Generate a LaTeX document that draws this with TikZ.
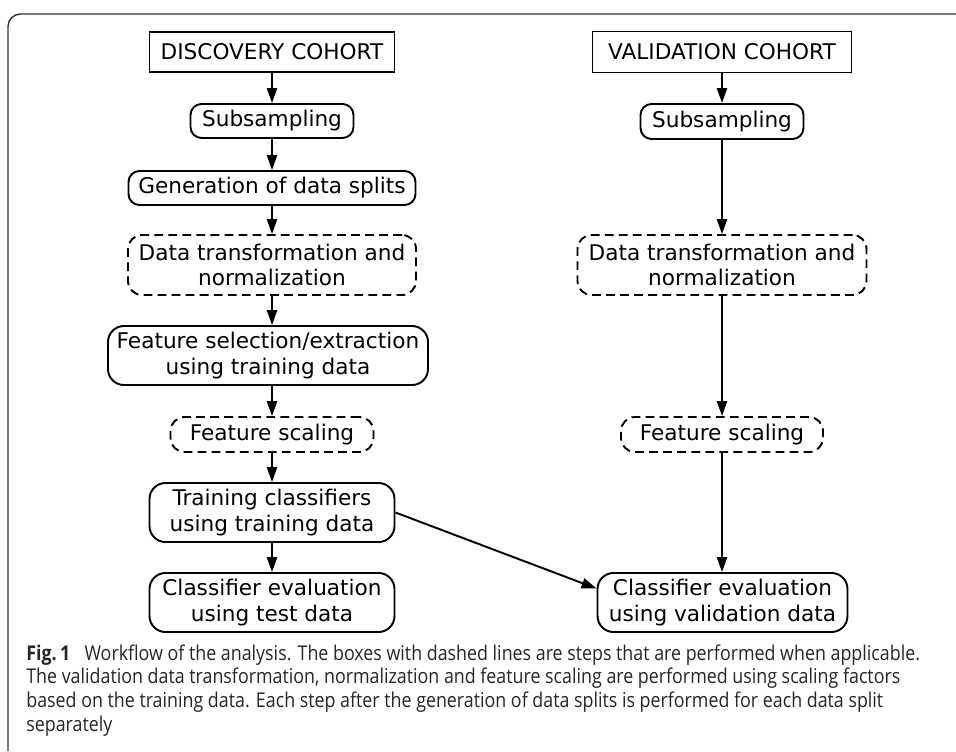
\documentclass[tikz,border=0pt]{standalone}
\usepackage{fontspec}
\setmainfont{DejaVu Sans}
\newfontfamily\capfont{Open Sans}[FakeStretch=0.875]
\usetikzlibrary{arrows.meta}
\tikzset{
  px/.style={x=0.02cm,y=-0.02cm},
  wh/.style 2 args={minimum width=#1*0.02cm, minimum height=#2*0.02cm},
  base/.style={draw, line width=1.1pt, inner sep=0pt, align=center,
    font=\fontsize{12.3}{14.5}\selectfont},
  cohort/.style={base},
  stepbox/.style={base, rounded corners=0.22cm},
  tallbox/.style={base, rounded corners=0.32cm},
  optbox/.style={base, rounded corners=0.28cm, dash pattern=on 5pt off 3pt},
  conn/.style={line width=1.1pt, -{Triangle[length=8.5pt,width=5.8pt]}},
  frame/.style={line width=0.8pt, black!80, rounded corners=0.25cm},
}
\begin{document}
\begin{tikzpicture}[px]
\useasboundingbox (0,0) rectangle (956,751);
\draw[frame] (8,751) |- (956,14);

% left column
\node[cohort, wh={245}{40}] (dc) at (272,52) {DISCOVERY COHORT};
\node[stepbox, wh={163}{34}] (subl) at (272,121) {Subsampling};
\node[stepbox, wh={287}{34}] (gen) at (272,188) {Generation of data splits};
\node[optbox, wh={288}{60}] (dtl) at (272,265) {Data transformation and\\normalization};
\node[tallbox, wh={320}{59}] (fsel) at (268,355.5) {Feature selection/extraction\\using training data};
\node[optbox, wh={203}{35}] (fscl) at (272,434.5) {Feature scaling};
\node[tallbox, wh={245}{59}] (train) at (272,512.5) {Training classifiers\\using training data};
\node[tallbox, wh={245}{59}] (evalt) at (272,602.5) {Classifier evaluation\\using test data};

% right column
\node[cohort, wh={259}{41}] (vc) at (722,52) {VALIDATION COHORT};
\node[stepbox, wh={163}{35}] (subr) at (722,121.5) {Subsampling};
\node[optbox, wh={289}{60}] (dtr) at (722,265) {Data transformation and\\normalization};
\node[optbox, wh={202}{35}] (fscr) at (722,434.5) {Feature scaling};
\node[tallbox, wh={250}{59}] (evalv) at (722.5,602.5) {Classifier evaluation\\using validation data};

% connectors
\draw[conn] (dc) -- (subl);
\draw[conn] (subl) -- (gen);
\draw[conn] (gen) -- (dtl);
\draw[conn] (dtl.south) -- (dtl.south |- fsel.north);
\draw[conn] (fsel.south -| fscl.north) -- (fscl.north);
\draw[conn] (fscl) -- (train);
\draw[conn] (train) -- (evalt);
\draw[conn] (train.east) -- ([yshift=0.28cm]evalv.west);
\draw[conn] (vc) -- (subr);
\draw[conn] (subr) -- (dtr);
\draw[conn] (dtr) -- (fscr);
\draw[conn] (fscr.south) -- (fscr.south |- evalv.north);

% caption
\node[anchor=base west, inner sep=0pt, align=left,
  font=\capfont\fontsize{11.6}{13.4}\selectfont, text=black!85] (cap) at (26,731)
  {\textbf{Fig.\,1}\hspace{0.7em}Workflow of the analysis. The boxes with dashed lines are steps that are performed when applicable.\\
   The validation data transformation, normalization and feature scaling are performed using scaling factors\\
   based on the training data. Each step after the generation of data splits is performed for each data split\\
   separately};
\end{tikzpicture}
\end{document}
